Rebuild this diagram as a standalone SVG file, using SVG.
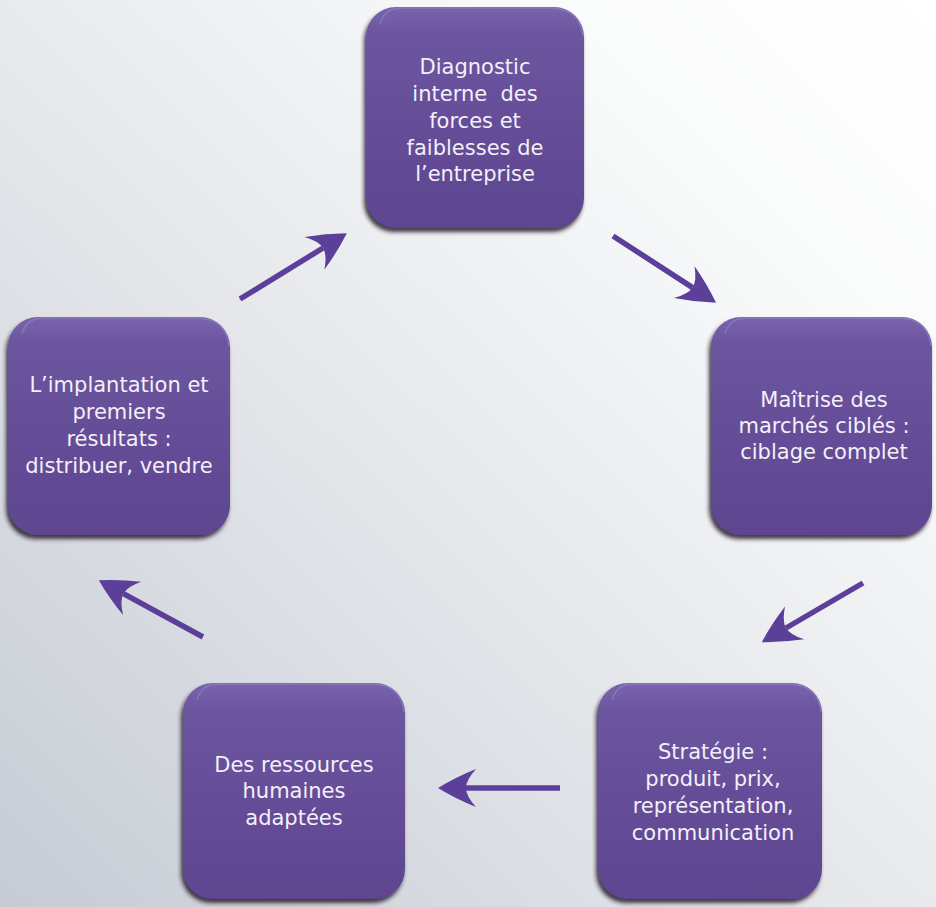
<svg xmlns="http://www.w3.org/2000/svg" width="936" height="907" viewBox="0 0 936 907">
  <defs>
    <linearGradient id="bg" x1="1" y1="0" x2="0" y2="1">
      <stop offset="0" stop-color="#ffffff"/>
      <stop offset="0.2" stop-color="#fafbfb"/>
      <stop offset="0.55" stop-color="#e5e7eb"/>
      <stop offset="1" stop-color="#c6cbd4"/>
    </linearGradient>
    <linearGradient id="boxfill" x1="0" y1="0" x2="0" y2="1">
      <stop offset="0" stop-color="#7a64ae"/>
      <stop offset="0.12" stop-color="#6c559f"/>
      <stop offset="1" stop-color="#5e4590"/>
    </linearGradient>
    <filter id="shadow" x="-10%" y="-10%" width="120%" height="120%">
      <feDropShadow dx="-2" dy="4" stdDeviation="2" flood-color="#1a1228" flood-opacity="0.85"/>
    </filter>
    <marker id="head" viewBox="0 0 40 40" refX="12" refY="20" markerWidth="40" markerHeight="40" markerUnits="userSpaceOnUse" orient="auto">
      <path d="M40,20 Q22,9 2,1 Q12,12 12,20 Q12,28 2,39 Q22,31 40,20 Z" fill="#5b3f98"/>
    </marker>
    <style>
      .box { fill: url(#boxfill); filter: url(#shadow); }
      .hl { fill: none; stroke: #9a86c6; stroke-opacity: 0.55; stroke-width: 1.5; }
      .lbl { font-family: "DejaVu Sans", "Liberation Sans", sans-serif; font-size: 21px; fill: #f3f0f8; text-anchor: middle; }
      .arrow { stroke: #5b3f98; stroke-width: 5.5; fill: none; marker-end: url(#head); }
    </style>
  </defs>

  <rect width="936" height="907" fill="url(#bg)"/>

  <g id="connectors">
    <line class="arrow" x1="240" y1="299" x2="323" y2="248"/>
    <line class="arrow" x1="613" y1="236" x2="692.6" y2="287.6"/>
    <line class="arrow" x1="863" y1="583" x2="786" y2="628"/>
    <line class="arrow" x1="560" y1="788" x2="466" y2="788"/>
    <line class="arrow" x1="203" y1="637" x2="123.4" y2="593.6"/>
  </g>

  <g id="node-diagnostic">
    <rect class="box" x="366" y="7" width="218" height="221" rx="30"/>
    <path class="hl" d="M380,24 Q384,9 400,8 L552,8 Q580,9 583,36"/>
    <text class="lbl" x="475" y="74">Diagnostic</text>
    <text class="lbl" x="475" y="101" xml:space="preserve">interne  des</text>
    <text class="lbl" x="475" y="128">forces et</text>
    <text class="lbl" x="475" y="155">faiblesses de</text>
    <text class="lbl" x="475" y="181">l’entreprise</text>
  </g>

  <g id="node-maitrise">
    <rect class="box" x="711" y="317" width="221" height="218" rx="30"/>
    <path class="hl" d="M725,334 Q729,319 745,318 L900,318 Q928,319 931,346"/>
    <text class="lbl" x="824" y="407">Maîtrise des</text>
    <text class="lbl" x="824" y="433">marchés ciblés :</text>
    <text class="lbl" x="824" y="459">ciblage complet</text>
  </g>

  <g id="node-strategie">
    <rect class="box" x="598" y="683" width="224" height="216" rx="30"/>
    <path class="hl" d="M612,700 Q616,685 632,684 L790,684 Q818,685 821,712"/>
    <text class="lbl" x="713" y="759">Stratégie :</text>
    <text class="lbl" x="713" y="786">produit, prix,</text>
    <text class="lbl" x="713" y="813">représentation,</text>
    <text class="lbl" x="713" y="840">communication</text>
  </g>

  <g id="node-ressources">
    <rect class="box" x="183" y="683" width="222" height="216" rx="30"/>
    <path class="hl" d="M197,700 Q201,685 217,684 L373,684 Q401,685 404,712"/>
    <text class="lbl" x="294" y="772">Des ressources</text>
    <text class="lbl" x="294" y="798">humaines</text>
    <text class="lbl" x="294" y="825">adaptées</text>
  </g>

  <g id="node-implantation">
    <rect class="box" x="8" y="317" width="222" height="218" rx="30"/>
    <path class="hl" d="M22,334 Q26,319 42,318 L198,318 Q226,319 229,346"/>
    <text class="lbl" x="119" y="392">L’implantation et</text>
    <text class="lbl" x="119" y="419">premiers</text>
    <text class="lbl" x="119" y="446">résultats :</text>
    <text class="lbl" x="119" y="473">distribuer, vendre</text>
  </g>
</svg>
